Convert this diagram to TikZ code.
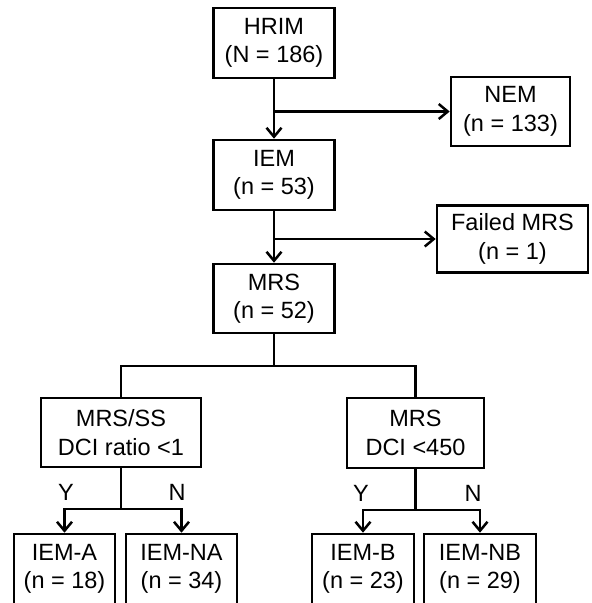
\documentclass[tikz,border=0pt]{standalone}
\usepackage{fontspec}
\setmainfont{Liberation Sans}
\usetikzlibrary{arrows.meta}
\begin{document}
\begin{tikzpicture}[x=1pt,y=-1pt,
  box/.style={draw, line width=2.6pt, inner sep=0pt, align=center, font=\fontsize{23.5}{28.5}\selectfont},
  lbl/.style={inner sep=0pt, font=\fontsize{23.5}{28.5}\selectfont},
  conn/.style={line width=2.5pt},
  arr/.style={conn, -{Straight Barb[length=9pt,width=15pt]}}]
\path[use as bounding box] (0,0) rectangle (592,603);
\fill[white] (0,0) rectangle (592,603);
\clip (0,0) rectangle (592,603);
\node[box, minimum width=121pt, minimum height=70pt] (hrim) at (274,43) {HRIM\\(N = 186)};
\node[box, minimum width=119pt, minimum height=69pt] (nem) at (510.5,111.5) {NEM\\(n = 133)};
\node[box, minimum width=121pt, minimum height=70pt] (iem) at (274,175) {IEM\\(n = 53)};
\node[box, minimum width=151pt, minimum height=67pt] (fail) at (512.5,239) {Failed MRS\\(n = 1)};
\node[box, minimum width=121pt, minimum height=69pt] (mrs) at (274,298.5) {MRS\\(n = 52)};
\node[box, minimum width=160pt, minimum height=69pt] (ss) at (121,432.5) {MRS/SS\\DCI ratio <1};
\node[box, minimum width=137pt, minimum height=70pt] (dci) at (415.5,433) {MRS\\DCI <450};
\node[box, minimum width=101pt, minimum height=70pt] (iema) at (64.5,569) {IEM-A\\(n = 18)};
\node[box, minimum width=111pt, minimum height=70pt] (iemna) at (181.5,569) {IEM-NA\\(n = 34)};
\node[box, minimum width=102pt, minimum height=70pt] (iemb) at (363,569) {IEM-B\\(n = 23)};
\node[box, minimum width=112pt, minimum height=70pt] (iemnb) at (480,569) {IEM-NB\\(n = 29)};
\coordinate (s1) at (274,366);
\coordinate (s2) at (121,509);
\coordinate (s3) at (415.5,510);
\draw[arr] (hrim.south) -- (iem.north);
\draw[arr] (nem.west -| hrim.south) -- (nem.west);
\draw[arr] (iem.south) -- (mrs.north);
\draw[arr] (fail.west -| iem.south) -- (fail.west);
\draw[conn] (mrs.south) -- (s1);
\draw[conn] (ss.north) |- (s1) -| (dci.north);
\draw[conn] (ss.south) -- (s2);
\draw[arr] (s2) -| (iema.north);
\draw[arr] (s2) -| (iemna.north);
\draw[conn] (dci.south) -- (s3);
\draw[arr] (s3) -| (iemb.north);
\draw[arr] (s3) -| (iemnb.north);
\node[lbl] (y1) at (66,492) {Y};
\node[lbl] (n1) at (177,492) {N};
\node[lbl] (y2) at (361,493) {Y};
\node[lbl] (n2) at (473,493) {N};
\end{tikzpicture}
\end{document}
